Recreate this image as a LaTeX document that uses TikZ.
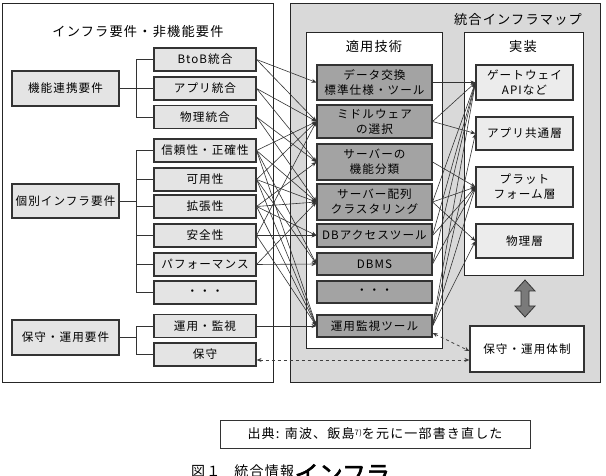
\documentclass[tikz,border=0pt]{standalone}
\usepackage{fontspec}
\newfontfamily\jp[LetterSpace=9]{Noto Sans CJK JP}
\newfontfamily\jpb[FakeBold=2.5]{Noto Sans CJK JP}
\usetikzlibrary{arrows.meta,calc}
\definecolor{lgray}{HTML}{E4E4E4}
\definecolor{igray}{HTML}{ECECEC}
\definecolor{dgray}{HTML}{A3A3A3}
\definecolor{bgray}{HTML}{D9D9D9}
\definecolor{agray}{HTML}{7A7A7A}
\begin{document}
\begin{tikzpicture}[x=1pt,y=-1pt,
  box/.style={draw=black!80, line width=1.1pt, font=\jp\fontsize{11.6}{15}\selectfont, align=center, inner sep=0pt},
  grp/.style={box, fill=lgray, minimum width=107pt, minimum height=34pt},
  sub/.style={box, fill=lgray, minimum width=102pt, minimum height=23pt},
  tech/.style={box, fill=dgray, minimum width=115pt},
  impl/.style={box, fill=igray, minimum width=97pt},
  frame/.style={draw=black!85, line width=0.9pt},
  con/.style={draw=black!80, line width=0.6pt},
  arr/.style={con, -{Stealth[length=5pt,width=4pt]}},
  darr/.style={draw=black!75, line width=0.8pt, dashed, {Stealth[length=5pt,width=4pt]}-{Stealth[length=5pt,width=4pt]}},
  ttl/.style={font=\jp\fontsize{13.2}{15}\selectfont, inner sep=0pt},
]
\useasboundingbox (0,0) rectangle (606,476);
\fill[white] (0,0) rectangle (606,476);

% frames
\draw[frame, fill=white] (2,3) rectangle (273,382);
\draw[frame, fill=bgray] (290,3) rectangle (600,382);
\draw[frame, fill=white] (306,32) rectangle (442,348);
\draw[frame, fill=white] (464,32) rectangle (583,275);

% titles
\node[ttl] (tleft) at (138,32) {インフラ要件・非機能要件};
\node[ttl] (tmap) at (518,20) {統合インフラマップ};
\node[ttl] (ttech) at (374,47) {適用技術};
\node[ttl] (timpl) at (523,47) {実装};

% group boxes
\node[grp, minimum height=35pt] (g1) at (65.5,88.5) {機能連携要件};
\node[grp] (g2) at (65.5,201) {個別インフラ要件};
\node[grp, minimum height=35pt] (g3) at (65.5,337.5) {保守・運用要件};

% sub boxes
\node[sub] (btob)  at (205,59.5)  {BtoB統合};
\node[sub] (app)   at (205,88.5)  {アプリ統合};
\node[sub] (phys)  at (205,117)   {物理統合};
\node[sub] (rel)   at (205,150.5) {信頼性・正確性};
\node[sub] (avail) at (205,179.5) {可用性};
\node[sub] (scal)  at (205,206.5) {拡張性};
\node[sub] (sec)   at (205,235.5) {安全性};
\node[sub] (perf)  at (205,264.5) {パフォーマンス};
\node[sub] (sdots) at (205,292.5) {・・・};
\node[sub] (opmon) at (205,326)   {運用・監視};
\node[sub] (hoshu) at (205,354.5) {保守};

% brackets
\coordinate (bx) at (136,0);
\draw[con, line width=0.9pt] (g1.east) -- (g1.east -| bx);
\draw[con, line width=0.9pt] (btob.west -| bx) -- (phys.west -| bx);
\foreach \c in {btob,app,phys} \draw[con, line width=0.9pt] (\c.west) -- (\c.west -| bx);
\draw[con, line width=0.9pt] (g2.east) -- (g2.east -| bx);
\draw[con, line width=0.9pt] (rel.west -| bx) -- (sdots.west -| bx);
\foreach \c in {rel,avail,scal,sec,perf,sdots} \draw[con, line width=0.9pt] (\c.west) -- (\c.west -| bx);
\draw[con, line width=0.9pt] (g3.east) -- (g3.east -| bx);
\draw[con, line width=0.9pt] (opmon.west -| bx) -- (hoshu.west -| bx);
\foreach \c in {opmon,hoshu} \draw[con, line width=0.9pt] (\c.west) -- (\c.west -| bx);

% tech boxes
\node[tech, minimum height=35pt] (dx)   at (374.5,82.5) {データ交換\\標準仕様・ツール};
\node[tech, minimum height=33pt] (mw)   at (374.5,121.5) {ミドルウェア\\の選択};
\node[tech, minimum height=36pt] (sv)   at (374.5,162) {サーバーの\\機能分類};
\node[tech, minimum height=36pt] (cl)   at (374.5,202) {サーバー配列\\クラスタリング};
\node[tech, minimum height=23pt] (dba)  at (374.5,235.5) {DBアクセスツール};
\node[tech, minimum height=22pt] (dbms) at (374.5,264) {DBMS};
\node[tech, minimum height=22pt] (tdots) at (374.5,292) {・・・};
\node[tech, minimum height=22pt] (ops)  at (374.5,326) {運用監視ツール};

% impl boxes
\node[impl, minimum height=35pt] (gw)    at (524.5,82.5) {ゲートウェイ\\APIなど};
\node[impl, minimum height=33pt] (appc)  at (524.5,133.5) {アプリ共通層};
\node[impl, minimum height=40pt] (plat)  at (524.5,187) {プラット\\フォーム層};
\node[impl, minimum height=34pt] (physl) at (524.5,241) {物理層};

\node[box, fill=white, minimum width=114pt, minimum height=46pt] (taisei) at (527,349) {保守・運用体制};

% double arrow
\draw[draw=black!80, line width=0.8pt, fill=agray]
  (525,280) -- (535,291) -- (529,291) -- (529,306) -- (535,306) -- (525,317)
  -- (515,306) -- (521,306) -- (521,291) -- (515,291) -- cycle;

% requirement -> technology
\foreach \a/\b in {btob/dx, btob/mw, app/mw, app/sv, phys/sv, phys/cl,
  rel/mw, rel/cl, rel/dbms, rel/ops, avail/mw, avail/cl, avail/dbms, avail/ops,
  scal/sv, scal/cl, scal/dba, scal/ops, sec/mw, sec/dba, sec/ops,
  perf/cl, perf/dbms, opmon/ops}
  \draw[arr] (\a.east) -- (\b.west);

% technology -> implementation
\foreach \a/\b in {dx/gw, mw/gw, mw/appc, sv/plat, cl/plat, cl/physl, cl/gw,
  dba/gw, dba/plat, dbms/gw, dbms/plat, ops/gw, ops/appc, ops/plat, ops/physl}
  \draw[arr] (\a.east) -- (\b.west);

% dashed links
\draw[darr] ([yshift=-7pt]ops.east) -- ([yshift=-2pt]taisei.west);
\draw[darr] ([yshift=-5.5pt]hoshu.east) -- ([yshift=-5.5pt]hoshu.east -| taisei.west);

% source box
\node[draw=black!80, line width=0.9pt, font=\jp\fontsize{13}{15}\selectfont, inner sep=0pt,
  minimum width=310pt, minimum height=28pt] (src) at (375,434)
  {出典: 南波、飯島{\fontsize{7.5}{8}\selectfont\raisebox{3.5pt}{7)}}を元に一部書き直した};

% cut-off caption
\node[anchor=base west, font=\jp\fontsize{14}{16}\selectfont, inner sep=0pt] (fig1) at (191,476) {図１\quad 統合情報};
\node[anchor=base west, font=\jpb\fontsize{24}{26}\selectfont, inner sep=0pt] (fig2) at ([yshift=-7pt]fig1.base east) {インフラ};
\end{tikzpicture}
\end{document}
